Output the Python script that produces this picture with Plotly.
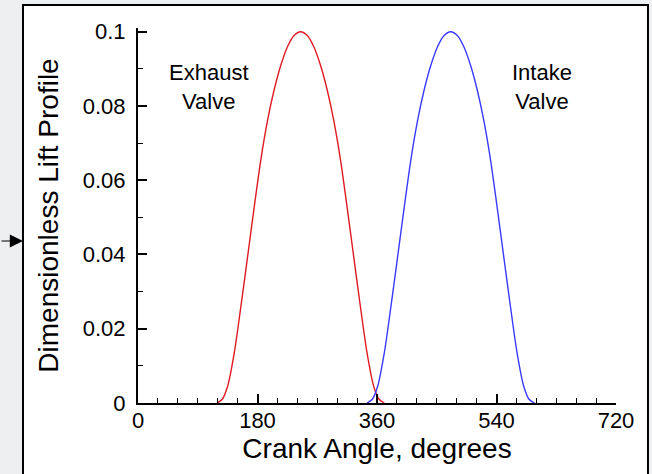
import plotly.graph_objects as go

# Crank angle (degrees) and lift values
exhaust_angle = [119, 127, 135, 145, 155, 165, 175, 185, 195, 205, 215, 225, 235, 245,
                 255, 265, 275, 285, 295, 305, 315, 325, 335, 345, 355, 363, 371]
exhaust_lift = [0.0, 0.0010, 0.0045, 0.0135, 0.0260, 0.0393, 0.0527, 0.0655, 0.0760,
                0.0843, 0.0909, 0.0959, 0.0990, 0.1000, 0.0990, 0.0959, 0.0909, 0.0843,
                0.0760, 0.0655, 0.0527, 0.0393, 0.0260, 0.0135, 0.0045, 0.0010, 0.0]

intake_angle = [345, 353, 361, 371, 381, 391, 401, 411, 421, 431, 441, 451, 461, 471,
                481, 491, 501, 511, 521, 531, 541, 551, 561, 571, 581, 589, 597]
intake_lift = [0.0, 0.0010, 0.0045, 0.0135, 0.0260, 0.0393, 0.0527, 0.0655, 0.0760,
               0.0843, 0.0909, 0.0959, 0.0990, 0.1000, 0.0990, 0.0959, 0.0909, 0.0843,
               0.0760, 0.0655, 0.0527, 0.0393, 0.0260, 0.0135, 0.0045, 0.0010, 0.0]

x_ticks = [0, 180, 360, 540, 720]
y_ticks = [0, 0.02, 0.04, 0.06, 0.08, 0.1]
y_tick_labels = ["0", "0.02", "0.04", "0.06", "0.08", "0.1"]

FONT = "Liberation Sans, Arial, Helvetica, sans-serif"

fig = go.Figure()
fig.add_trace(go.Scatter(x=exhaust_angle, y=exhaust_lift, mode="lines",
                         line=dict(color="#e01a22", width=1.4, shape="spline", smoothing=0.8),
                         showlegend=False, hoverinfo="skip"))
fig.add_trace(go.Scatter(x=intake_angle, y=intake_lift, mode="lines",
                         line=dict(color="#3a3aff", width=1.4, shape="spline", smoothing=0.8),
                         showlegend=False, hoverinfo="skip"))

fig.add_annotation(x=107, y=0.085, text="Exhaust<br>Valve", showarrow=False,
                   font=dict(family=FONT, size=22, color="black"), align="center")
fig.add_annotation(x=609, y=0.085, text="Intake<br>Valve", showarrow=False,
                   font=dict(family=FONT, size=22, color="black"), align="center")

# outer frame
fig.add_shape(type="rect", xref="paper", yref="paper",
              x0=-0.2406, x1=1.0669, y0=-0.25, y1=1.0613,
              line=dict(color="black", width=2), fillcolor="white", layer="below")

# arrow at the left edge
fig.add_annotation(xref="paper", yref="paper", x=-0.2406, y=0.432, ax=-28, ay=0,
                   text="", showarrow=True, arrowhead=2, arrowsize=2.2, arrowwidth=1.2,
                   arrowcolor="black")

fig.update_layout(
    width=652, height=474,
    margin=dict(l=138, r=36, t=28, b=71),
    paper_bgcolor="#eeeff1",
    plot_bgcolor="rgba(0,0,0,0)",
    font=dict(family=FONT, color="black"),
    xaxis=dict(range=[0, 720], tickvals=x_ticks, showgrid=False, zeroline=False,
               showline=True, linecolor="black", linewidth=2,
               ticks="inside", ticklen=9, tickwidth=1.5, tickcolor="black",
               minor=dict(dtick=30, ticks="inside", ticklen=5, tickwidth=1, tickcolor="black"),
               tickfont=dict(size=22), ticklabelstandoff=-3,
               title=dict(text="Crank Angle, degrees", font=dict(size=28), standoff=4)),
    yaxis=dict(range=[0, 0.101], tickvals=y_ticks, ticktext=y_tick_labels,
               showgrid=False, zeroline=False,
               showline=True, linecolor="black", linewidth=2,
               ticks="inside", ticklen=9, tickwidth=1.5, tickcolor="black",
               minor=dict(dtick=0.01, ticks="inside", ticklen=5, tickwidth=1, tickcolor="black"),
               tickfont=dict(size=22), ticklabelstandoff=6,
               title=dict(text="Dimensionless Lift Profile", font=dict(size=28), standoff=16)),
)

fig.write_html("out.html", config={"displayModeBar": False},
               post_script="document.body.style.margin='0';document.body.style.padding='0';")
